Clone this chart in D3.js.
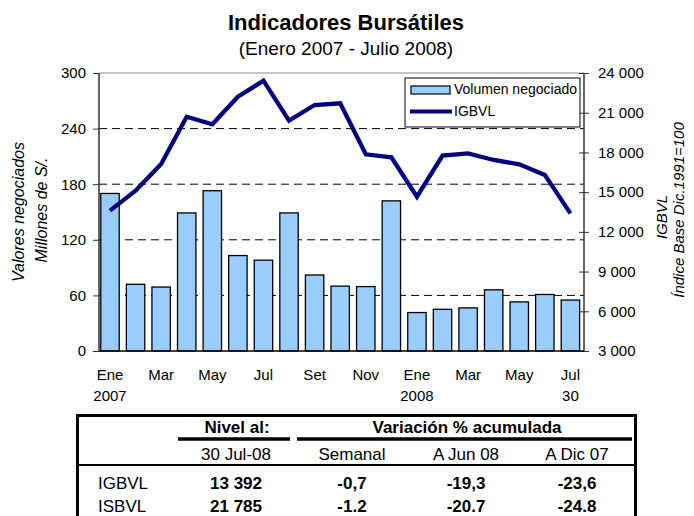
<!DOCTYPE html>
<html>
<head>
<meta charset="utf-8">
<script src="https://cdn.jsdelivr.net/npm/d3@7"></script>
<style>
  body { margin: 0; background: #fff; }
  svg { font-family: "Liberation Sans", Arial, sans-serif; }
</style>
</head>
<body>
<div id="root"></div>
<script>
// Data
const months = ["Ene", "Feb", "Mar", "Abr", "May", "Jun", "Jul", "Ago", "Set", "Oct",
  "Nov", "Dic", "Ene", "Feb", "Mar", "Abr", "May", "Jun", "Jul"];
const monthLabels = ["Ene", "", "Mar", "", "May", "", "Jul", "", "Set", "", "Nov", "",
  "Ene", "", "Mar", "", "May", "", "Jul"];
const yearLabels = ["2007", "", "", "", "", "", "", "", "", "", "", "",
  "2008", "", "", "", "", "", "30"];
const volumen = [170, 72, 69, 149, 173, 103, 98, 149, 82, 70, 69.5, 162,
  41.5, 45, 46.5, 66, 53, 61, 55];
const igbvl = [13600, 15110, 17130, 20700, 20130, 22210, 23420, 20400, 21580, 21710,
  17860, 17630, 14660, 17760, 17930, 17430, 17100, 16300, 13392];
const leftTicks = [0, 60, 120, 180, 240, 300];
const rightTicks = [3000, 6000, 9000, 12000, 15000, 18000, 21000, 24000];

// Table data
const tableHead = ["Nivel al:", "Variación % acumulada"];
const tableSub = ["30 Jul-08", "Semanal", "A Jun 08", "A Dic 07"];
const tableRows = [
  ["IGBVL", "13 392", "-0,7", "-19,3", "-23,6"],
  ["ISBVL", "21 785", "-1.2", "-20.7", "-24.8"]
];

// Size
const width = 694;
const height = 516;
const plotLeft = 99;
const plotRight = 584;
const plotTop = 73;
const plotBottom = 351;

const locale = d3.formatLocale({ decimal: ",", thousands: "\u00a0", grouping: [3], currency: ["", ""] });
const fmt = locale.format(",");

const svg = d3
  .select("#root")
  .append("svg")
  .attr("width", width)
  .attr("height", height);

// Scales
const x = d3
  .scaleBand()
  .domain(d3.range(months.length))
  .range([plotLeft - 1.8, plotRight - 0.8])
  .paddingInner(0.28)
  .paddingOuter(0.14);

const yLeft = d3.scaleLinear().domain([0, 300]).range([plotBottom, plotTop]);
const yRight = d3.scaleLinear().domain([3000, 24000]).range([plotBottom, plotTop]);

// Title
svg.append("text")
  .attr("x", 346)
  .attr("y", 30)
  .attr("text-anchor", "middle")
  .attr("font-size", "22px")
  .attr("font-weight", "bold")
  .text("Indicadores Bursátiles");

svg.append("text")
  .attr("x", 346)
  .attr("y", 55)
  .attr("text-anchor", "middle")
  .attr("font-size", "19px")
  .text("(Enero 2007 - Julio 2008)");

// Top border of the plot
svg.append("line")
  .attr("x1", plotLeft).attr("x2", plotRight)
  .attr("y1", plotTop).attr("y2", plotTop)
  .attr("stroke", "#8c8c8c")
  .attr("stroke-width", 1.2);

// Grid lines
svg.append("g")
  .selectAll("line")
  .data(leftTicks.filter(d => d > 0 && d < 300))
  .enter()
  .append("line")
  .attr("x1", plotLeft)
  .attr("x2", plotRight)
  .attr("y1", d => yLeft(d))
  .attr("y2", d => yLeft(d))
  .attr("stroke", "#000")
  .attr("stroke-width", 1)
  .attr("stroke-dasharray", "8,5");

// Bars
svg.append("g")
  .selectAll("rect")
  .data(volumen)
  .enter()
  .append("rect")
  .attr("x", (d, i) => x(i))
  .attr("y", d => yLeft(d))
  .attr("width", x.bandwidth())
  .attr("height", d => plotBottom - yLeft(d))
  .attr("fill", "#99ccff")
  .attr("stroke", "#000")
  .attr("stroke-width", 1.3);

// Left axis
const leftAxis = svg.append("g")
  .attr("transform", "translate(" + plotLeft + ",0)")
  .call(d3.axisLeft(yLeft).tickValues(leftTicks).tickSize(6).tickPadding(7));
leftAxis.select(".domain").remove();
leftAxis.selectAll("text").attr("font-size", "15px").attr("fill", "#000");
leftAxis.selectAll(".tick line").attr("stroke", "#333");
svg.append("line")
  .attr("x1", plotLeft).attr("x2", plotLeft)
  .attr("y1", plotTop).attr("y2", plotBottom)
  .attr("stroke", "#333").attr("stroke-width", 1.5);

// Right axis
const rightAxis = svg.append("g")
  .attr("transform", "translate(" + plotRight + ",0)")
  .call(d3.axisRight(yRight).tickValues(rightTicks).tickSize(5).tickPadding(9).tickFormat(fmt));
rightAxis.select(".domain").remove();
rightAxis.selectAll(".tick line").attr("x1", -5).attr("stroke", "#333");
rightAxis.selectAll("text").attr("font-size", "15px").attr("fill", "#000");
svg.append("line")
  .attr("x1", plotRight).attr("x2", plotRight)
  .attr("y1", plotTop).attr("y2", plotBottom)
  .attr("stroke", "#333").attr("stroke-width", 1.5);

// Bottom axis
const bottomAxis = svg.append("g")
  .attr("transform", "translate(0," + plotBottom + ")")
  .call(d3.axisBottom(x).tickSize(0).tickPadding(18).tickFormat(i => monthLabels[i]));
bottomAxis.select(".domain").remove();
bottomAxis.selectAll("text").attr("font-size", "15px").attr("fill", "#000");
bottomAxis.selectAll(".tick")
  .append("text")
  .attr("y", 50)
  .attr("fill", "#000")
  .attr("font-size", "15px")
  .text(i => yearLabels[i]);
svg.append("line")
  .attr("x1", plotLeft).attr("x2", plotRight)
  .attr("y1", plotBottom).attr("y2", plotBottom)
  .attr("stroke", "#000").attr("stroke-width", 1.5);

// IGBVL line
const line = d3.line()
  .x((d, i) => x(i) + x.bandwidth() / 2)
  .y(d => yRight(d));

svg.append("path")
  .datum(igbvl)
  .attr("fill", "none")
  .attr("stroke", "#000080")
  .attr("stroke-width", 4.3)
  .attr("stroke-linejoin", "miter")
  .attr("d", line);

// Axis titles
svg.append("text")
  .attr("transform", "translate(23.5,212) rotate(-90)")
  .attr("text-anchor", "middle")
  .attr("font-size", "16px")
  .attr("font-style", "italic")
  .text("Valores negociados");

svg.append("text")
  .attr("transform", "translate(47,210) rotate(-90)")
  .attr("text-anchor", "middle")
  .attr("font-size", "16px")
  .attr("font-style", "italic")
  .text("Millones de S/.");

svg.append("text")
  .attr("transform", "translate(667,217) rotate(-90)")
  .attr("text-anchor", "middle")
  .attr("font-size", "15px")
  .attr("font-style", "italic")
  .text("IGBVL");

svg.append("text")
  .attr("transform", "translate(683.5,210) rotate(-90)")
  .attr("text-anchor", "middle")
  .attr("font-size", "15px")
  .attr("font-style", "italic")
  .text("Índice Base Dic.1991=100");

// Legend
const legend = svg.append("g");
legend.append("rect")
  .attr("x", 405).attr("y", 78)
  .attr("width", 175).attr("height", 49)
  .attr("fill", "#fff")
  .attr("stroke", "#000")
  .attr("stroke-width", 1);
legend.append("rect")
  .attr("x", 411).attr("y", 86)
  .attr("width", 39).attr("height", 8)
  .attr("fill", "#99ccff")
  .attr("stroke", "#000")
  .attr("stroke-width", 1.2);
legend.append("text")
  .attr("x", 454).attr("y", 94)
  .attr("font-size", "14px")
  .text("Volumen negociado");
legend.append("line")
  .attr("x1", 410).attr("x2", 452)
  .attr("y1", 111.5).attr("y2", 111.5)
  .attr("stroke", "#000080")
  .attr("stroke-width", 4);
legend.append("text")
  .attr("x", 454).attr("y", 116)
  .attr("font-size", "14px")
  .text("IGBVL");

// Table
const colX = [98, 236, 352, 466, 577];
const table = svg.append("g").attr("font-size", "17px");

table.append("path")
  .attr("d", "M77.5,520 V415.5 H635.5 V520")
  .attr("fill", "none")
  .attr("stroke", "#000")
  .attr("stroke-width", 3);

table.append("line")
  .attr("x1", 178).attr("x2", 290).attr("y1", 439).attr("y2", 439)
  .attr("stroke", "#000").attr("stroke-width", 3.5);
table.append("line")
  .attr("x1", 297).attr("x2", 632).attr("y1", 439).attr("y2", 439)
  .attr("stroke", "#000").attr("stroke-width", 3.5);
table.append("line")
  .attr("x1", 77).attr("x2", 634).attr("y1", 465).attr("y2", 465)
  .attr("stroke", "#000").attr("stroke-width", 2);

table.selectAll("text.head")
  .data(tableHead)
  .enter()
  .append("text")
  .attr("class", "head")
  .attr("x", (d, i) => i === 0 ? 237 : 467)
  .attr("y", 433)
  .attr("text-anchor", "middle")
  .attr("font-weight", "bold")
  .text(d => d);

table.selectAll("text.sub")
  .data(tableSub)
  .enter()
  .append("text")
  .attr("class", "sub")
  .attr("x", (d, i) => colX[i + 1])
  .attr("y", 460)
  .attr("text-anchor", "middle")
  .text(d => d);

tableRows.forEach((row, r) => {
  table.selectAll("text.row" + r)
    .data(row)
    .enter()
    .append("text")
    .attr("class", "row" + r)
    .attr("x", (d, i) => colX[i])
    .attr("y", 489 + r * 23)
    .attr("text-anchor", (d, i) => i === 0 ? "start" : "middle")
    .attr("font-weight", (d, i) => i === 0 ? "normal" : "bold")
    .text(d => d);
});
</script>
</body>
</html>
